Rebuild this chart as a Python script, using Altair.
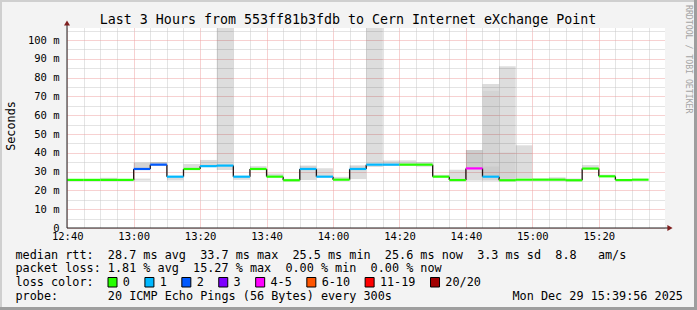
import altair as alt
import pandas as pd

FONT = "DejaVu Sans Mono"
NB = "\u00a0"

# ---------------- data ----------------
STEP = 5  # minutes per RRD step (300 s)
median_ms = [25.6, 25.6, 25.6, 25.6, 31.4, 33.7, 27.3, 31.4, 32.9, 33.2,
             27.3, 31.4, 27.3, 25.4, 31.4, 27.3, 25.7, 31.4, 33.7, 33.7,
             33.7, 33.7, 27.3, 25.5, 31.7, 27.3, 25.4, 25.7, 25.7, 25.7,
             25.4, 31.6, 27.5, 25.5, 25.7]
loss = ["0", "0", "0", "0", "2", "2", "1", "0", "1", "1",
        "1", "0", "0", "0", "1", "1", "0", "1", "1", "1",
        "0", "0", "0", "0", "4-5", "1", "0", "0", "0", "0",
        "0", "0", "0", "0", "0"]

smoke_interval = [2, 4, 4, 5, 5, 6, 7, 8, 8, 9, 10, 11, 12, 13, 14, 14, 15, 16,
                  17, 17, 18, 19, 20, 21, 22, 23, 24, 24, 25, 25, 25, 25,
                  26, 26, 27, 28, 29, 30, 31, 32, 33]
smoke_lo = [25.6, 25.2, 31.4, 33.0, 33.7, 25.3, 31.4, 32.9, 33.9, 30.8, 25.6, 31.4, 27.3, 25.4, 25.5, 31.0, 27.0, 25.7,
            26.0, 31.4, 32.5, 33.0, 33.0, 32.6, 27.3, 25.5, 25.2, 31.7, 73.0, 32.5, 27.7, 25.2,
            40.2, 25.4, 26.5, 25.7, 25.7, 25.4, 31.6, 27.5, 25.5]
smoke_hi = [26.7, 26.3, 34.8, 33.7, 35.1, 27.6, 34.0, 33.9, 36.2, 106.4, 27.6, 32.9, 29.0, 26.2, 31.0, 33.2, 31.8, 27.2,
            31.4, 33.3, 106.4, 35.9, 36.0, 35.1, 28.3, 31.0, 31.7, 41.5, 76.6, 73.0, 32.5, 27.7,
            86.0, 40.2, 44.0, 26.3, 27.0, 26.4, 33.5, 28.4, 26.0]
smoke_level = [1, 1, 2, 1, 2, 1, 1, 2, 1, 1, 1, 1, 1, 1, 1, 2, 1, 1,
               1, 2, 1, 1, 1, 1, 1, 1, 1, 3, 1, 2, 3, 2,
               1, 2, 1, 1, 1, 1, 1, 1, 1]

loss_labels = ["0", "1", "2", "3", "4-5", "6-10", "11-19", "20/20"]
loss_colors = ["#26ff00", "#00b8ff", "#0059ff", "#7e00ff", "#ff00ff", "#ff5500", "#ff0000", "#a10000"]

title_text = "Last 3 Hours from 553ff81b3fdb to Cern Internet eXchange Point"
line1 = "median rtt:  28.7 ms avg  33.7 ms max  25.5 ms min  25.6 ms now  3.3 ms sd  8.8   am/s"
line2 = "packet loss: 1.81 % avg  15.27 % max  0.00 % min  0.00 % now"
line3 = "loss color:"
line4 = "probe:       20 ICMP Echo Pings (56 Bytes) every 300s"
date_text = "Mon Dec 29 15:39:56 2025"

# ---------------- tables ----------------
seg = pd.DataFrame({
    "s": [i * STEP for i in range(len(median_ms))],
    "e": [(i + 1) * STEP for i in range(len(median_ms))],
    "m": median_ms,
    "loss": loss,
})
conn = pd.DataFrame({
    "t": [i * STEP for i in range(1, len(median_ms))],
    "a": median_ms[:-1],
    "b": median_ms[1:],
})
smoke = pd.DataFrame({
    "s": [i * STEP for i in smoke_interval],
    "e": [(i + 1) * STEP for i in smoke_interval],
    "lo": smoke_lo,
    "hi": smoke_hi,
    "level": smoke_level,
})
one = pd.DataFrame({"k": [0]})

# ---------------- layout ----------------
L, T, W, H = 67, 28, 598, 200
MAJOR = "#eea3a3"
MINOR = "#c8c8c8"

xaxis = alt.Axis(
    values=list(range(0, 180, 5)),
    labelExpr="datum.value % 20 === 0 ? (floor((760 + datum.value) / 60) + ':' + ((760 + datum.value) % 60 < 10 ? '0' : '') + ((760 + datum.value) % 60)) : ''",
    grid=True,
    gridColor={"condition": {"test": "datum.value % 20 === 0", "value": MAJOR}, "value": MINOR},
    gridDash=[1, 1], gridWidth=1, domain=False, ticks=False,
    labelFont=FONT, labelFontSize=10.5, labelColor="black", labelPadding=3,
    labelOverlap=False, labelFlush=False, labelBound=False, title=None,
)
yaxis = alt.Axis(
    values=list(range(0, 106, 5)),
    labelExpr="datum.value % 10 === 0 ? (datum.value === 0 ? '0' : datum.value + ' m') : ''",
    grid=True,
    gridColor={"condition": {"test": "datum.value % 10 === 0", "value": MAJOR}, "value": MINOR},
    gridDash=[1, 1], gridWidth=1, domain=False, ticks=False,
    labelFont=FONT, labelFontSize=10.5, labelColor="black", labelPadding=8,
    labelOverlap=False, labelFlush=False, labelBound=False, title=None,
)
xs = alt.Scale(domain=[-4 / 60, 180 - 4 / 60], nice=False, zero=False)
ys = alt.Scale(domain=[0, 106.4], nice=False, zero=False)

smoke_layer = alt.Chart(smoke).mark_rect(color="black").encode(
    x=alt.X("s:Q", scale=xs, axis=xaxis),
    x2="e:Q",
    y=alt.Y("lo:Q", scale=ys, axis=yaxis),
    y2="hi:Q",
    opacity=alt.Opacity("level:O", scale=alt.Scale(domain=[1, 2, 3], range=[0.135, 0.2, 0.28]), legend=None),
)
conn_layer = alt.Chart(conn).mark_rule(color="#221414", strokeWidth=1.3).encode(
    x=alt.X("t:Q", scale=xs, axis=xaxis),
    y=alt.Y("a:Q", scale=ys, axis=yaxis),
    y2="b:Q",
)
seg_layer = alt.Chart(seg).mark_rule(strokeWidth=2.2).encode(
    x=alt.X("s:Q", scale=xs, axis=xaxis),
    x2="e:Q",
    y=alt.Y("m:Q", scale=ys, axis=yaxis),
    color=alt.Color("loss:N", scale=alt.Scale(domain=loss_labels, range=loss_colors), legend=None),
)


def px(x):
    return x - L


def py(y):
    return y - T


def txt(s, x, y, size=11.8, align="left", baseline="alphabetic", angle=0, color="black"):
    return alt.Chart(one).mark_text(
        text=s.replace(" ", NB), font=FONT, fontSize=size, align=align,
        baseline=baseline, angle=angle, color=color,
    ).encode(x=alt.value(px(x)), y=alt.value(py(y)))


def box(x1, x2, y1, y2, fill, stroke=None):
    kw = {"fill": fill}
    if stroke:
        kw.update(stroke=stroke, strokeWidth=1)
    return alt.Chart(one).mark_rect(**kw).encode(
        x=alt.value(px(x1)), x2=alt.value(px(x2)), y=alt.value(py(y1)), y2=alt.value(py(y2)))


layers = [smoke_layer, conn_layer, seg_layer]

# axes lines and arrows
layers.append(alt.Chart(one).mark_rule(color="#202020", strokeWidth=1).encode(
    x=alt.value(0), y=alt.value(H), y2=alt.value(-5)))
layers.append(alt.Chart(one).mark_rule(color="#202020", strokeWidth=1).encode(
    x=alt.value(0), x2=alt.value(602), y=alt.value(H)))
layers.append(alt.Chart(one).mark_point(shape="triangle-up", filled=True, size=36, color="#7f1f1f", opacity=1).encode(
    x=alt.value(0), y=alt.value(-5)))
layers.append(alt.Chart(one).mark_point(shape="triangle-right", filled=True, size=36, color="#7f1f1f", opacity=1).encode(
    x=alt.value(603), y=alt.value(H)))

# frame shading
layers.append(box(0, 697, 0, 2, "#cfcfcf"))
layers.append(box(0, 2, 0, 310, "#cfcfcf"))
layers.append(box(0, 697, 307, 310, "#9e9e9e"))
layers.append(box(694, 697, 0, 310, "#9e9e9e"))

# texts
layers.append(txt(title_text, 348, 24, size=13.3, align="center"))
layers.append(txt("Seconds", 11, 126, align="center", baseline="middle", angle=270))
layers.append(txt("RRDTOOL / TOBI OETIKER", 687.5, 5, size=8.2, baseline="middle", angle=90, color="#a4a4a4"))
layers.append(txt(line1, 15.5, 258.5))
layers.append(txt(line2, 15.5, 272.4))
layers.append(txt(line3, 15.5, 286.3))
layers.append(txt(line4, 15.5, 300.2))
layers.append(txt(date_text, 512.5, 300.2))

# loss colour legend
CW = 7.12
bx = 108.0
for lab, col in zip(loss_labels, loss_colors):
    layers.append(box(bx, bx + 9, 277.5, 287, col, stroke="black"))
    tx = bx + 14.8
    layers.append(txt(lab, tx, 286.3))
    bx = tx + len(lab) * CW + 15.0

chart = alt.layer(*layers).properties(
    width=W, height=H,
    padding={"left": L, "top": T, "right": 697 - L - W, "bottom": 310 - T - H},
    autosize=alt.AutoSizeParams(type="none"),
    background="#f3f3f3",
).configure_view(stroke=None, fill="white")

chart.save("out.html", embed_options={"renderer": "svg", "actions": False})
